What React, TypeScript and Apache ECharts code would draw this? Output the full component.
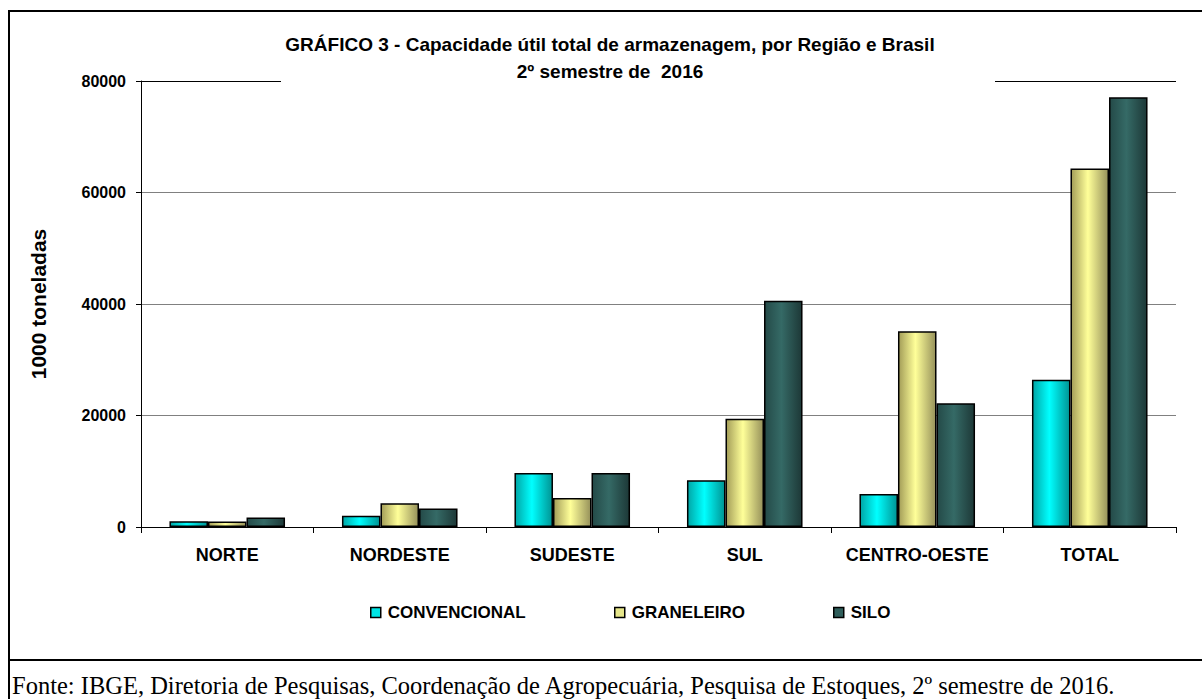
import React, { useEffect, useRef } from "react";
import * as echarts from "echarts";

const categories = ["NORTE", "NORDESTE", "SUDESTE", "SUL", "CENTRO-OESTE", "TOTAL"];
const seriesNames = ["CONVENCIONAL", "GRANELEIRO", "SILO"];
const convencional = [1050, 2000, 9700, 8400, 5900, 26400];
const graneleiro = [1000, 4250, 5200, 19400, 35100, 64300];
const silo = [1700, 3300, 9700, 40600, 22200, 77100];
const yTicks = { min: 0, max: 80000, interval: 20000 };
const titleLines = [
  "GRÁFICO 3 - Capacidade útil total de armazenagem, por Região e Brasil",
  "2º semestre de  2016",
];
const yName = "1000 toneladas";
const footer =
  "Fonte: IBGE, Diretoria de Pesquisas, Coordenação de Agropecuária, Pesquisa de Estoques, 2º semestre de 2016.";

const FONT = "'Liberation Sans', Arial, sans-serif";

const grad = (a: string, b: string, c: string) =>
  new echarts.graphic.LinearGradient(0, 0, 1, 0, [
    { offset: 0, color: a },
    { offset: 0.45, color: b },
    { offset: 1, color: c },
  ]);

const solidColors = ["#00e5e5", "#e6e68a", "#2f5e5b"];

export default function App() {
  const ref = useRef<HTMLDivElement>(null);
  useEffect(() => {
    if (!ref.current) return;
    const chart = echarts.init(ref.current, undefined, { renderer: "svg" });
    const fills = [
      grad("#00a6a6", "#00ffff", "#009494"),
      grad("#a39d58", "#ffff99", "#96915a"),
      grad("#244a48", "#356a66", "#1d3837"),
    ];
    const data = [convencional, graneleiro, silo];
    const legendLefts = [365, 609, 828];
    chart.setOption({
      animation: false,
      backgroundColor: "#ffffff",
      title: {
        text: titleLines.join("\n"),
        left: 605,
        top: 26,
        textAlign: "center",
        textStyle: {
          fontFamily: FONT,
          fontSize: 19,
          fontWeight: "bold",
          color: "#000",
          lineHeight: 27,
        },
      },
      legend: seriesNames.map((n, i) => ({
        data: [n],
        left: legendLefts[i],
        top: 599,
        itemWidth: 10,
        itemHeight: 10,
        icon: "rect",
        selectedMode: false,
        itemStyle: { color: solidColors[i], borderColor: "#000", borderWidth: 1.5 },
        textStyle: { fontFamily: FONT, fontSize: 17, fontWeight: "bold", color: "#000", padding: [0, 0, 0, 2] },
      })),
      grid: { left: 141, right: 26, top: 81, bottom: 172 },
      xAxis: {
        type: "category",
        data: categories,
        axisLine: { lineStyle: { color: "#000", width: 1 } },
        axisTick: { show: true, length: 6, lineStyle: { color: "#000" } },
        axisLabel: {
          interval: 0,
          fontFamily: FONT,
          fontSize: 18,
          fontWeight: "bold",
          color: "#000",
          margin: 19,
        },
      },
      yAxis: {
        type: "value",
        min: yTicks.min,
        max: yTicks.max,
        interval: yTicks.interval,
        name: yName,
        nameLocation: "middle",
        nameGap: 92,
        nameTextStyle: { fontFamily: FONT, fontSize: 21, fontWeight: "bold", color: "#000" },
        axisLine: { show: true, lineStyle: { color: "#000", width: 1 } },
        axisTick: { show: true, length: 5, lineStyle: { color: "#000" } },
        axisLabel: {
          fontFamily: FONT,
          fontSize: 16,
          fontWeight: "bold",
          color: "#000",
          margin: 15,
          formatter: (v: number) => String(v),
        },
        splitLine: {
          show: true,
          lineStyle: { color: ["#000", "#808080", "#808080", "#808080", "#000"], width: 1.2 },
        },
      },
      series: seriesNames.map((n, i) => ({
        name: n,
        type: "bar",
        data: data[i],
        barGap: "0%",
        barCategoryGap: "33%",
        itemStyle: { color: fills[i], borderColor: "#000", borderWidth: 1.5 },
      })),
      graphic: [
        {
          type: "rect",
          shape: { x: 281, y: 74, width: 714, height: 14 },
          style: { fill: "#fff" },
          z: 1,
        },
        {
          type: "rect",
          shape: { x: 9, y: 11, width: 1200, height: 700 },
          style: { fill: "none", stroke: "#000", lineWidth: 2 },
          z: 10,
        },
        {
          type: "line",
          shape: { x1: 8, y1: 660, x2: 1202, y2: 660 },
          style: { stroke: "#000", lineWidth: 2 },
          z: 10,
        },
        {
          type: "text",
          x: 12,
          y: 698,
          style: {
            text: footer,
            fontFamily: "'Liberation Serif', 'Times New Roman', serif",
            fontSize: 24.5,
            fill: "#000",
            verticalAlign: "bottom",
          },
          z: 10,
        },
      ],
    });
    return () => chart.dispose();
  }, []);
  return (
    <div
      ref={ref}
      style={{ position: "fixed", left: 0, top: 0, width: 1202, height: 699, background: "#fff" }}
    />
  );
}
